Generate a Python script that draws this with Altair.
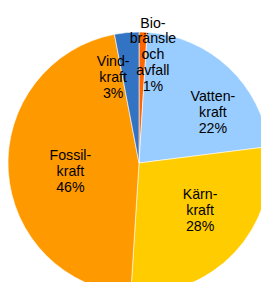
import altair as alt
import pandas as pd

# data
categories = ["Bio-\nbränsle\noch\navfall", "Vatten-\nkraft", "Kärn-\nkraft", "Fossil-\nkraft", "Vind-\nkraft"]
shares = [1, 22, 28, 46, 3]
colors = ["#FF6600", "#99CCFF", "#FFCC00", "#FF9900", "#3373C4"]

# label layout: position of each label's first line
# (angle in degrees clockwise from top, distance from centre in px)
label_angle = [5.7, 48.3, 117.7, 275.9, 345.6]
label_radius = [140, 99, 69, 69, 104]

CX, CY = 131, 155

df = pd.DataFrame({
    "cat": categories,
    "share": shares,
    "order": list(range(len(shares))),
})
lab = pd.DataFrame({
    "cat": categories,
    "text": [f"{c}\n{s}%" for c, s in zip(categories, shares)],
    "ang": label_angle,
    "rad": label_radius,
})

arcs = alt.Chart(df).mark_arc(outerRadius=131, stroke="#ffffff", strokeWidth=0.6).encode(
    theta=alt.Theta("share:Q", stack=True),
    order=alt.Order("order:Q"),
    x=alt.value(CX),
    y=alt.value(CY),
    color=alt.Color("cat:N", scale=alt.Scale(domain=categories, range=colors), legend=None),
)

texts = alt.Chart(lab).mark_text(
    font="Liberation Sans", fontSize=14.2, lineBreak="\n", lineHeight=15.8,
    align="center", baseline="middle", color="#000000",
).encode(
    theta=alt.Theta("ang:Q", stack=None, scale=alt.Scale(domain=[0, 360], range=[0, 6.283185307])),
    radius=alt.Radius("rad:Q", scale=None),
    x=alt.value(CX),
    y=alt.value(CY),
    text="text:N",
)

chart = alt.layer(arcs, texts).resolve_scale(theta="independent").properties(
    width=253, height=274, padding=0, autosize=alt.AutoSizeParams(type="none"),
).configure_view(stroke=None)

chart.save("out.html", embed_options={"renderer": "svg", "actions": False})
